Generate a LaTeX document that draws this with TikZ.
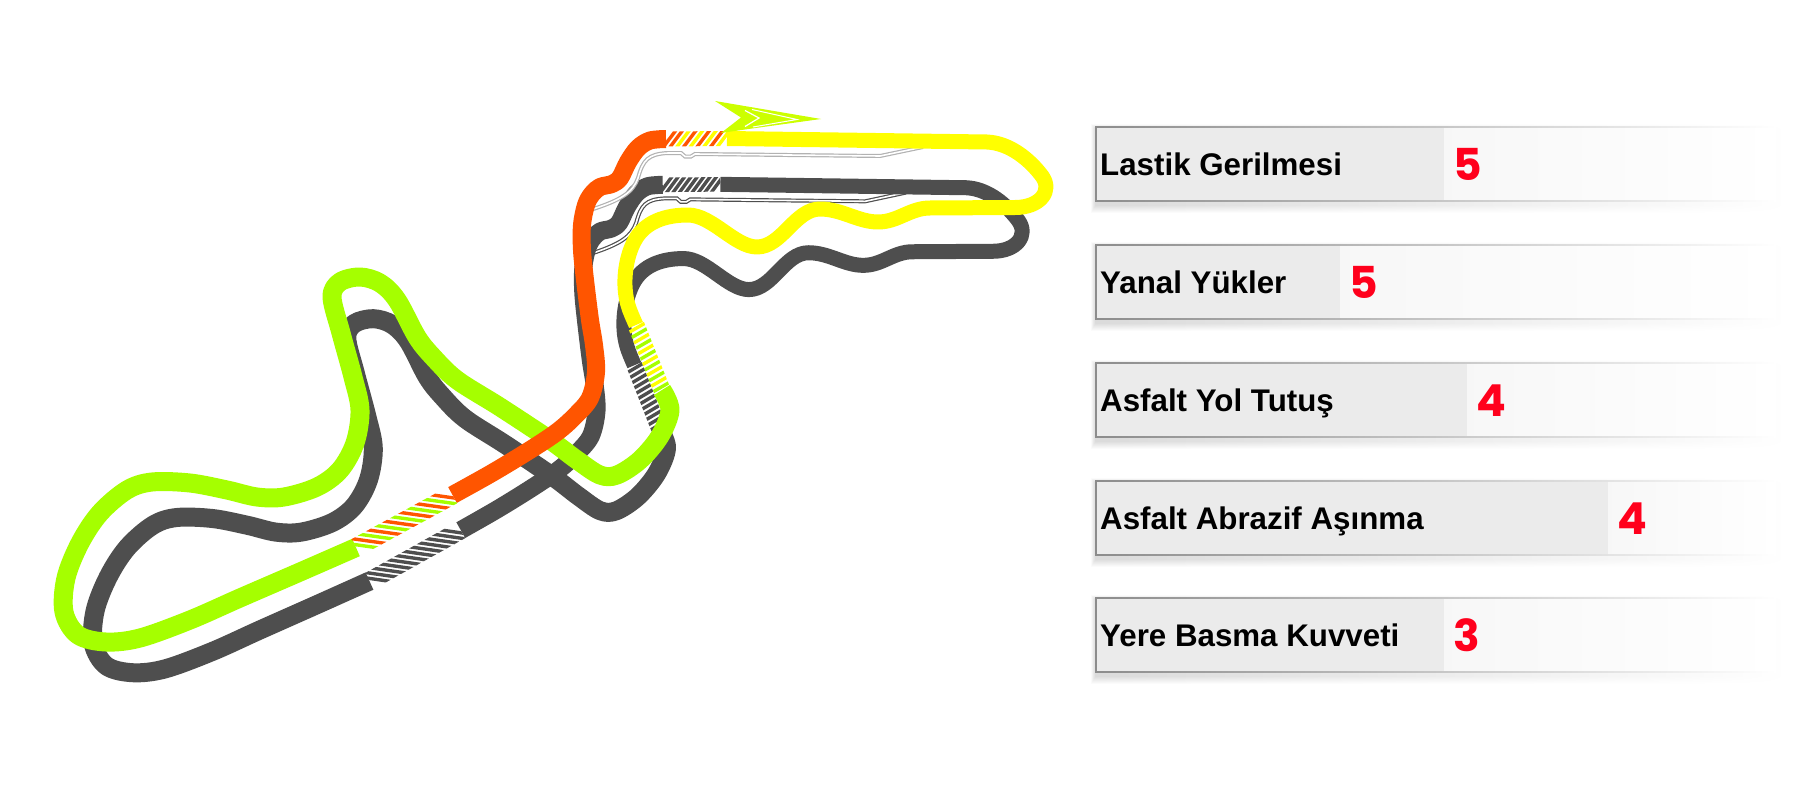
\documentclass[tikz,border=0pt]{standalone}
\usepackage{fontspec}
\setmainfont{Liberation Sans}
\newfontfamily\valuefont{Poppins}
\usetikzlibrary{calc}

\definecolor{trackgreen}{RGB}{165,255,0}
\definecolor{trackorange}{RGB}{255,85,0}
\definecolor{trackyellow}{RGB}{255,255,0}
\definecolor{arrowlime}{RGB}{204,255,0}
\definecolor{shadowgray}{RGB}{78,78,78}
\definecolor{pitgray}{RGB}{178,178,178}
\definecolor{valuered}{RGB}{255,0,28}
\definecolor{cellgray}{RGB}{235,235,235}

\newcommand\stripes[6]{%
    \begin{scope}
        \clip ($#1!#3!90:#2$) -- ($#2!#3!-90:#1$) -- ($#2!#3!90:#1$) -- ($#1!#3!-90:#2$) -- cycle;
        \foreach \stripecol [count=\idx] in {#6}
            \draw[\stripecol, line width=3.4pt] ($#1!{(\idx-0.5)/#5}!#2$) ++(#4:-30) -- ++(#4:60);
    \end{scope}}

\newcommand\drawtrack{%
    \draw[pitlane] (590,210) .. controls (622,200) and (633,192) .. (638,178)
        .. controls (643,160) and (648,154) .. (668,153) -- (681,153) -- (685,156.5)
        -- (691,156.5) -- (695,154) -- (880,156) -- (923,147);
    \draw[trackline, trackgreen] plot[smooth, tension=0.55] coordinates {
        (356,547.5) (300,572) (240,598) (190,620) (140,638) (106,642) (78,635)
        (64,612) (66,578) (80,543) (100,513) (127,490) (152,482) (190,483)
        (227,490) (257,497) (284,497) (317,487) (340,470) (355,443) (360,410)
        (353,377) (341,333) (332,297) (340,282) (360,277) (380,283) (397,300)
        (417,337) (433,357) (457,380) (500,407) (550,440) (577,460) (600,475)
        (617,475) (640,460) (660,436) (670,410) (662,390)};
    \draw[trackline, trackyellow, line width=15pt] (727,138.5) -- (987,142)
        .. controls (1010,143) and (1030,160) .. (1042,176)
        .. controls (1053,191) and (1040,207.5) .. (1015,207.5) -- (930,208)
        .. controls (910,208) and (898,222) .. (878,222)
        .. controls (858,222) and (842,209) .. (820,209)
        .. controls (795,209) and (782,247) .. (757,247)
        .. controls (735,247) and (712,215) .. (688,215)
        .. controls (665,215) and (645,222) .. (635,240)
        .. controls (625,258) and (622,285) .. (628,305)
        .. controls (630,312) and (633,318) .. (636,325);
    \draw[trackline, trackorange, line width=18pt] plot[smooth, tension=0.55] coordinates {
        (452.5,495) (492,473) (530,450) (557,432) (575,416) (590,398) (596,372)
        (594,345) (590,320) (585,280) (582,250) (582,225) (586,205) (592,194)
        (600,187) (612,184) (620,178) (628,162) (638,148) (650,140.5) (666,139)};
    \stripes{(356,547.5)}{(452.5,495)}{9.5pt}{8}{12}{trackgreen,trackorange,trackgreen,trackorange,trackgreen,trackorange,trackgreen,trackorange,trackgreen,trackorange,trackgreen,trackorange}
    \stripes{(666,139)}{(727,138.5)}{7.5pt}{-53}{9}{trackorange,trackorange,trackyellow,trackorange,trackyellow,trackorange,trackyellow,trackorange,trackyellow}
    \stripes{(636,325)}{(662,390)}{8.5pt}{-30}{12}{trackyellow,trackgreen,trackyellow,trackgreen,trackyellow,trackgreen,trackyellow,trackgreen,trackyellow,trackgreen,trackyellow,trackgreen}
}

\begin{document}
\begin{tikzpicture}[x=1pt,y=-1pt]
    \tikzstyle{trackline}=[line width=19pt, line join=round]
    \tikzstyle{pitlane}=[draw=pitgray, line width=1.2pt, double=white, double distance=1.6pt]
    \tikzstyle{labeltext}=[anchor=base west, inner sep=0pt, font=\fontsize{31.3}{36}\selectfont\bfseries]
    \tikzstyle{valuetext}=[anchor=base west, inner sep=0pt, text=valuered, font=\valuefont\bfseries\fontsize{44}{50}\selectfont]

    \useasboundingbox (0,0) rectangle (1800,800);

    \begin{scope}[shift={(32.7,50)}, xscale=0.946, yscale=0.97]
        \colorlet{trackgreen}{shadowgray}
        \colorlet{trackorange}{shadowgray}
        \colorlet{trackyellow}{shadowgray}
        \colorlet{pitgray}{shadowgray}
        \drawtrack
    \end{scope}
    \drawtrack

    \fill[arrowlime] (715,101) -- (821,119) -- (752,128.5) -- (721,133) -- (741,117.5) -- cycle;
    \draw[white, line width=1.2pt] (745,110.5) -- (759,118) -- (745,126.5);
    \draw[white, line width=1pt] (752,109.5) -- (797,119.5) -- (753,127);

    \foreach \ytop/\xcell/\txt/\val [count=\n] in {127/1444.5/Lastik Gerilmesi/5,
        245/1340.4/Yanal Yükler/5, 363/1467.2/Asfalt Yol Tutuş/4,
        481/1608.4/Asfalt Abrazif Aşınma/4, 598/1444.5/Yere Basma Kuvveti/3} {
        \foreach \k [evaluate=\k as \shadeval using 16-1.8*\k] in {8,...,1}
            \shade[left color=black!\shadeval, right color=white]
                (1096-0.6*\k,\ytop+3-0.7*\k) rectangle (1790,\ytop+77+\k);
        \fill[cellgray] (1096,\ytop) rectangle (\xcell,\ytop+74);
        \shade[left color=black!3, right color=white] (\xcell,\ytop) rectangle (1776,\ytop+74);
        \shade[left color=black!45, right color=white] (1096,\ytop-0.6) rectangle (1776,\ytop+0.6);
        \shade[left color=black!45, right color=white] (1096,\ytop+73.4) rectangle (1776,\ytop+74.6);
        \draw[black!45, line width=1.2pt] (1096,\ytop-0.6) -- (1096,\ytop+74.6);
        \node[labeltext] (label\n) at (1100,\ytop+48.5) {\txt};
        \node[valuetext] (value\n) at (\xcell+9,\ytop+53.5) {\val};
    }
\end{tikzpicture}
\end{document}
